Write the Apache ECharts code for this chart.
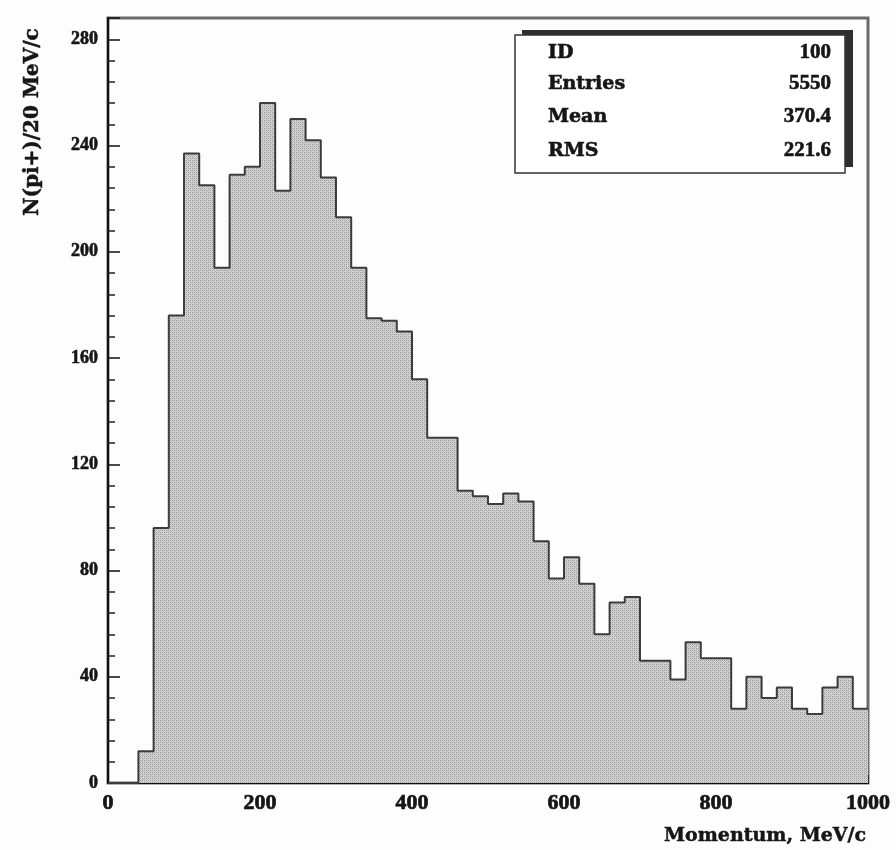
<!DOCTYPE html>
<html>
<head>
<meta charset="utf-8">
<script src="https://cdn.jsdelivr.net/npm/echarts@6/dist/echarts.min.js"></script>
<style>
  html, body { margin: 0; padding: 0; background: #fdfdfd; }
  #chart { width: 896px; height: 850px; }
</style>
</head>
<body>
<div id="chart"></div>
<script>
// Bin edges (MeV/c), 20 MeV/c bins from 0 to 1000
const binWidth = 20;
const binStarts = [0,20,40,60,80,100,120,140,160,180,200,220,240,260,280,300,320,340,360,380,
  400,420,440,460,480,500,520,540,560,580,600,620,640,660,680,700,720,740,760,780,
  800,820,840,860,880,900,920,940,960,980];
// Counts per bin, N(pi+)/20 MeV/c
const counts = [0,0,12,96,176,237,225,194,229,232,256,223,250,242,228,213,194,175,174,170,
  152,130,130,110,108,105,109,106,91,77,85,75,56,68,70,46,46,39,53,47,
  47,28,40,32,36,28,26,36,40,28];
const xTicks = [0,200,400,600,800,1000];
const yTicks = [0,40,80,120,160,200,240,280];
const statLabels = ['ID','Entries','Mean','RMS'];
const statValues = ['100','5550','370.4','221.6'];

// step outline points built from the arrays
const stepData = binStarts.map((x, i) => [x, counts[i]]);
stepData.push([binStarts[binStarts.length - 1] + binWidth, counts[counts.length - 1]]);

// stipple pattern
const pat = document.createElement('canvas');
pat.width = 4; pat.height = 4;
const pc = pat.getContext('2d');
pc.fillStyle = '#d4d4d4'; pc.fillRect(0, 0, 4, 4);
pc.fillStyle = '#9c9c9c';
pc.fillRect(0, 0, 1, 1); pc.fillRect(2, 2, 1, 1); pc.fillRect(2, 0, 1, 1); pc.fillRect(0, 2, 1, 1);
pc.fillStyle = '#b8b8b8';
pc.fillRect(1, 1, 1, 1); pc.fillRect(3, 3, 1, 1);

const chart = echarts.init(document.getElementById('chart'), null, { renderer: 'canvas' });
const serif = "'Liberation Serif', 'DejaVu Serif', serif";
const serif2 = "'DejaVu Serif', 'Liberation Serif', serif";
const ink = '#161616';

const statTexts = [];
const rowY = [53, 84, 117, 151];
statLabels.forEach((s, i) => {
  statTexts.push({ type: 'text', x: 548, y: rowY[i], z: 12,
    style: { text: s, font: "bold 19px " + serif2, fill: ink, stroke: ink, lineWidth: 0.6, align: 'left', verticalAlign: 'middle' } });
  statTexts.push({ type: 'text', x: 831, y: rowY[i], z: 12,
    style: { text: statValues[i], font: "bold 21px " + serif, fill: ink, stroke: ink, lineWidth: 0.6, align: 'right', verticalAlign: 'middle' } });
});

chart.setOption({
  backgroundColor: '#fdfdfd',
  animation: false,
  grid: { left: 108, right: 28, top: 18, bottom: 67, show: true, borderColor: '#6a6a6a', borderWidth: 3, backgroundColor: 'transparent' },
  xAxis: {
    type: 'value', min: 0, max: 1000, interval: 200,
    axisLine: { show: true, onZero: false, lineStyle: { color: '#111', width: 2 } },
    axisTick: { show: true, inside: true, length: 8, lineStyle: { color: '#111', width: 1.5 } },
    minorTick: { show: true, splitNumber: 5, length: 5, lineStyle: { color: '#222', width: 1.5 } },
    splitLine: { show: false },
    axisLabel: { margin: 9, color: ink, fontFamily: serif, fontWeight: 'bold', fontSize: 22,
      textBorderColor: ink, textBorderWidth: 0.7,
      formatter: v => (xTicks.indexOf(v) >= 0 ? String(v) : '') }
  },
  yAxis: {
    type: 'value', min: 0, max: 288, interval: 40,
    axisLine: { show: true, onZero: false, lineStyle: { color: '#111', width: 2 } },
    axisTick: { show: true, inside: true, length: 12, lineStyle: { color: '#111', width: 1.5 } },
    minorTick: { show: true, splitNumber: 5, length: 7, lineStyle: { color: '#222', width: 1.5 } },
    splitLine: { show: false },
    axisLabel: { margin: 10, color: ink, fontFamily: serif, fontWeight: 'bold', fontSize: 18, showMaxLabel: false,
      textBorderColor: ink, textBorderWidth: 0.6,
      formatter: v => (yTicks.indexOf(v) >= 0 ? String(v) : '') }
  },
  series: [{
    type: 'line',
    step: 'end',
    data: stepData,
    symbol: 'none',
    clip: true,
    lineStyle: { color: '#3c3c3c', width: 2 },
    areaStyle: { color: { image: pat, repeat: 'repeat' }, opacity: 1 },
    z: 2
  }],
  graphic: [
    { type: 'rect', shape: { x: 522, y: 30, width: 331, height: 137 }, style: { fill: '#2e2e2e' }, z: 10 },
    { type: 'rect', shape: { x: 515, y: 35, width: 330, height: 138 }, style: { fill: '#ffffff', stroke: '#333', lineWidth: 1.5 }, z: 11 },
    ...statTexts,
    { type: 'text', x: 33, y: 122, rotation: Math.PI / 2, z: 12,
      style: { text: 'N(pi+)/20 MeV/c', font: "bold 20px " + serif2, fill: ink, stroke: ink, lineWidth: 0.5, align: 'center', verticalAlign: 'middle' } },
    { type: 'text', x: 866, y: 836, z: 12,
      style: { text: 'Momentum, MeV/c', font: "bold 19px " + serif2, fill: ink, stroke: ink, lineWidth: 0.5, align: 'right', verticalAlign: 'middle' } }
  ]
});
</script>
</body>
</html>
